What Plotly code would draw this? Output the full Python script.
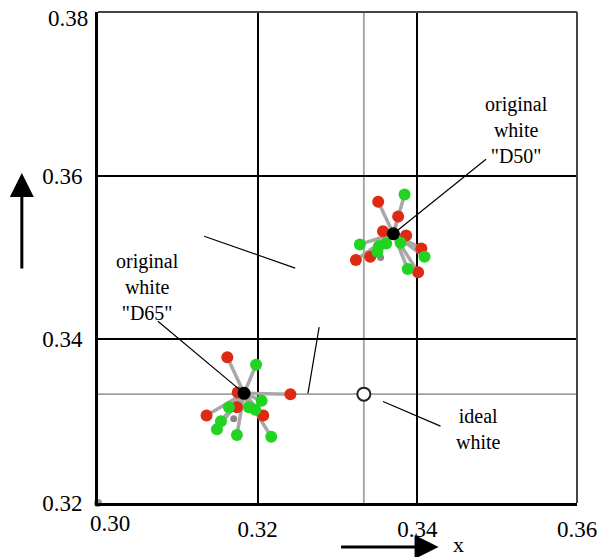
import plotly.graph_objects as go

# ---------------- data ----------------
x_tick_vals = [0.32, 0.34, 0.36]
x_tick_text = ["0.32", "0.34", "0.36"]
y_tick_vals = [0.32, 0.34, 0.36]
y_tick_text = ["0.32", "0.34", "0.36"]
x_corner_label = (0.30, "0.30")
y_corner_label = (0.38, "0.38")

ideal_white = (0.3333, 0.3333)
d50_white = (0.3370, 0.3529)
d65_white = (0.3183, 0.3334)

d50_red_x = [0.3351, 0.3376, 0.3357, 0.3386, 0.3341, 0.3323, 0.3405, 0.3401]
d50_red_y = [0.3568, 0.3550, 0.3532, 0.3527, 0.3501, 0.3497, 0.3511, 0.3482]
d50_green_x = [0.3384, 0.3379, 0.3361, 0.3328, 0.3352, 0.3350, 0.3409, 0.3388]
d50_green_y = [0.3577, 0.3518, 0.3517, 0.3516, 0.3514, 0.3507, 0.3501, 0.3486]
d50_gray = (0.3354, 0.3500)

d65_red_x = [0.3162, 0.3175, 0.3241, 0.3174, 0.3207, 0.3136]
d65_red_y = [0.3378, 0.3335, 0.3333, 0.3317, 0.3307, 0.3307]
d65_green_x = [0.3198, 0.3205, 0.3164, 0.3189, 0.3197, 0.3154, 0.3149, 0.3174, 0.3217]
d65_green_y = [0.3369, 0.3325, 0.3317, 0.3317, 0.3314, 0.3300, 0.3290, 0.3283, 0.3281]
d65_gray = (0.3170, 0.3303)

origin_point = (0.30, 0.32)

# label anchors (data coords) and leader lines
label_d50 = (0.3524, 0.3656, 'original<br>white<br>"D50"')
label_d65 = (0.3062, 0.3464, 'original<br>white<br>"D65"')
label_ideal = (0.3477, 0.3290, 'ideal<br>white')
leader_d50_start = (0.3486, 0.3620)
leader_d65_start = (0.3075, 0.3422)
leader_ideal = [(0.3357, 0.3324), (0.3429, 0.3294)]
extra_leaders = [[(0.3133, 0.3526), (0.3247, 0.3487)],
                 [(0.3277, 0.3415), (0.3263, 0.3334)]]

RED = "#dd2a12"
GREEN = "#22d322"
SPOKE = "#a8a8a8"
FONT = "Liberation Serif"

fig = go.Figure()


def spokes(center, xs, ys):
    sx, sy = [], []
    for x, y in zip(xs, ys):
        sx += [center[0], x, None]
        sy += [center[1], y, None]
    return sx, sy


for center, rx, ry, gx, gy, gray in [
    (d50_white, d50_red_x, d50_red_y, d50_green_x, d50_green_y, d50_gray),
    (d65_white, d65_red_x, d65_red_y, d65_green_x, d65_green_y, d65_gray),
]:
    sx, sy = spokes(center, rx + gx, ry + gy)
    fig.add_trace(go.Scatter(x=sx, y=sy, mode="lines",
                             line=dict(color=SPOKE, width=3.5),
                             hoverinfo="skip", showlegend=False))
    fig.add_trace(go.Scatter(x=[gray[0]], y=[gray[1]], mode="markers",
                             marker=dict(color="#888888", size=7),
                             showlegend=False))
    fig.add_trace(go.Scatter(x=rx, y=ry, mode="markers",
                             marker=dict(color=RED, size=12),
                             showlegend=False))
    fig.add_trace(go.Scatter(x=gx, y=gy, mode="markers",
                             marker=dict(color=GREEN, size=12),
                             showlegend=False))
    fig.add_trace(go.Scatter(x=[center[0]], y=[center[1]], mode="markers",
                             marker=dict(color="black", size=13),
                             showlegend=False))

fig.add_trace(go.Scatter(x=[ideal_white[0]], y=[ideal_white[1]], mode="markers",
                         marker=dict(color="white", size=13,
                                     line=dict(color="#222222", width=2)),
                         showlegend=False))
fig.add_trace(go.Scatter(x=[origin_point[0]], y=[origin_point[1]], mode="markers",
                         marker=dict(color="#999999", size=8),
                         cliponaxis=False, showlegend=False))

shapes = []
shapes.append(dict(type="line", xref="x", yref="paper", x0=ideal_white[0], x1=ideal_white[0],
                   y0=0, y1=1, line=dict(color="#a0a0a0", width=1.8), layer="below"))
shapes.append(dict(type="line", xref="paper", yref="y", x0=0, x1=1,
                   y0=ideal_white[1], y1=ideal_white[1], line=dict(color="#a0a0a0", width=1.8),
                   layer="below"))
shapes.append(dict(type="line", xref="paper", yref="paper", x0=0, x1=1, y0=1, y1=1,
                   line=dict(color="#444444", width=2)))
shapes.append(dict(type="line", xref="paper", yref="paper", x0=1, x1=1, y0=0, y1=1,
                   line=dict(color="#444444", width=2)))
for (x0, y0), (x1, y1) in [(leader_d50_start, d50_white), (leader_d65_start, d65_white),
                           tuple(leader_ideal)] + [tuple(l) for l in extra_leaders]:
    shapes.append(dict(type="line", xref="x", yref="y", x0=x0, y0=y0, x1=x1, y1=y1,
                       line=dict(color="black", width=1.2)))

annotations = []
for lx, ly, txt in [label_d50, label_d65, label_ideal]:
    annotations.append(dict(x=lx, y=ly, xref="x", yref="y", text=txt, showarrow=False,
                            font=dict(family=FONT, size=20, color="black"),
                            align="center"))
annotations.append(dict(x=x_corner_label[0], y=0, xref="x", yref="paper",
                        text=x_corner_label[1], showarrow=False, xanchor="left",
                        yanchor="top", yshift=-6, xshift=-10,
                        font=dict(family=FONT, size=23, color="black")))
annotations.append(dict(x=0, y=y_corner_label[0], xref="paper", yref="y",
                        text=y_corner_label[1], showarrow=False, xanchor="right",
                        yanchor="middle", xshift=-8, yshift=-6,
                        font=dict(family=FONT, size=23, color="black")))
# axis arrows
annotations.append(dict(x=-0.159, y=0.672, xref="paper", yref="paper", ax=0, ay=97,
                        axref="pixel", ayref="pixel", showarrow=True, arrowhead=2,
                        arrowsize=1.6, arrowwidth=3, arrowcolor="black", text=""))
annotations.append(dict(x=0.711, y=-0.0896, xref="paper", yref="paper", ax=-99, ay=0,
                        showarrow=True, arrowhead=2,
                        arrowsize=1.6, arrowwidth=3, arrowcolor="black", text=""))
annotations.append(dict(x=0.752, y=-0.0855, xref="paper", yref="paper", text="x",
                        xanchor="center", yanchor="middle",
                        showarrow=False, font=dict(family=FONT, size=22, color="black")))

fig.update_layout(
    width=609, height=557,
    margin=dict(l=98, r=27, t=12, b=54),
    paper_bgcolor="white", plot_bgcolor="white",
    shapes=shapes, annotations=annotations,
    showlegend=False,
    font=dict(family=FONT, size=23, color="black"),
    xaxis=dict(range=[0.30, 0.36], tickvals=x_tick_vals, ticktext=x_tick_text,
               showgrid=True, gridcolor="black", gridwidth=1.5, zeroline=False,
               showline=True, linecolor="black", linewidth=3, ticks="",
               ticklabelstandoff=3, tickfont=dict(family=FONT, size=23)),
    yaxis=dict(range=[0.32, 0.38], tickvals=y_tick_vals, ticktext=y_tick_text,
               showgrid=True, gridcolor="black", gridwidth=1.5, zeroline=False,
               showline=True, linecolor="black", linewidth=3, ticks="",
               ticklabelstandoff=8, tickfont=dict(family=FONT, size=23)),
)

fig.write_html("out.html")
